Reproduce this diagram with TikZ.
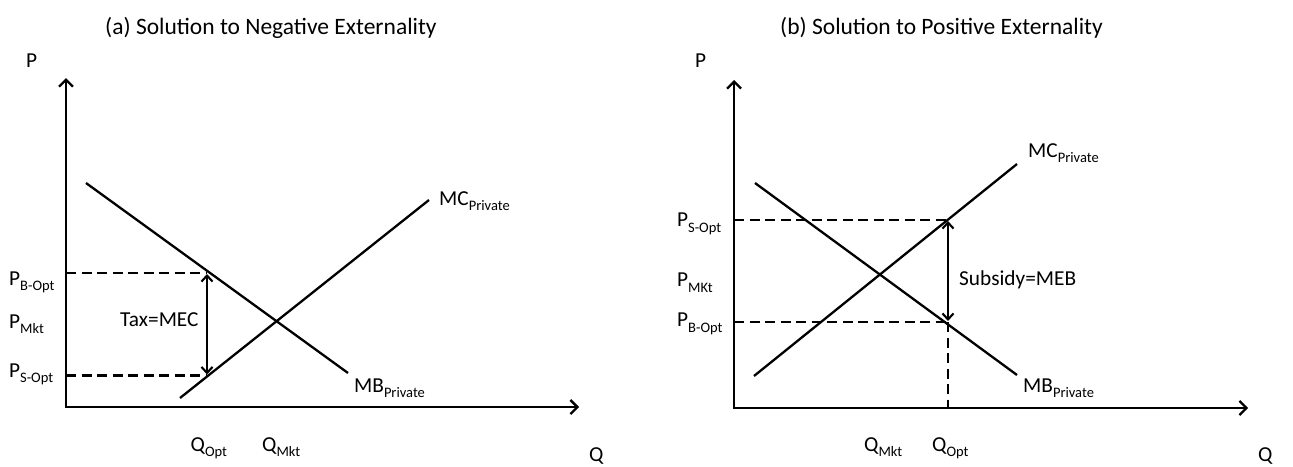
\documentclass[tikz,border=0pt]{standalone}
\usepackage{fontspec}
\setmainfont{Carlito}
\usetikzlibrary{arrows.meta}
\newcommand{\mysub}[1]{\raisebox{-0.27em}{\fontsize{14.5}{15}\selectfont #1}}
\begin{document}
\begin{tikzpicture}[x=1pt,y=-1pt,
  ln/.style={line width=2.3pt},
  dsh/.style={line width=2.3pt, dash pattern=on 10pt off 5.5pt},
  axes/.style={line width=2.3pt, {Straight Barb[length=7pt,width=14pt]}-{Straight Barb[length=7pt,width=14pt]}},
  dbl/.style={line width=2.1pt, {Straight Barb[length=6pt,width=11pt]}-{Straight Barb[length=6pt,width=11pt]}, shorten <=1pt, shorten >=1pt},
  lab/.style={font=\fontsize{21.3}{24}\selectfont, inner sep=0pt, anchor=base west},
  ttl/.style={font=\fontsize{23.5}{27}\selectfont, inner sep=0pt, anchor=base west}]
\useasboundingbox[fill=white] (0,0) rectangle (1293,466);

% ---------- panel (a) ----------
\node[ttl] (ta) at (105,34.5) {(a) Solution to Negative Externality};
\coordinate (Y1) at (66,78);
\coordinate (O1) at (66,407);
\coordinate (X1) at (579,407);
\draw[axes] (Y1) -- (O1) -- (X1);
\node[lab] (pa) at (26,67) {P};
\node[lab] (qa) at (589,461) {Q};

\coordinate (MBa1) at (86,183);
\coordinate (MBa2) at (348,373);
\coordinate (MCa1) at (180,398);
\coordinate (MCa2) at (429,200);
\draw[ln] (MBa1) -- (MBa2);
\draw[ln] (MCa1) -- (MCa2);

\coordinate (LB1) at (66,273);
\coordinate (B1) at (207,273);
\coordinate (LS1) at (66,375.5);
\coordinate (S1) at (207,375.5);
\draw[dsh] (LB1) -- (B1);
\draw[dsh] (LS1) -- (S1);
\draw[dbl] (B1) -- (S1);

\node[lab] (pba) at (9,285) {P\mysub{B-Opt}};
\node[lab] (pma) at (9,328) {P\mysub{Mkt}};
\node[lab] (psa) at (9,377) {P\mysub{S-Opt}};
\node[lab] (qoa) at (190.5,451) {Q\mysub{Opt}};
\node[lab] (qma) at (262,451) {Q\mysub{Mkt}};
\node[lab] (mca) at (439,205) {MC\mysub{Private}};
\node[lab] (mba) at (354,392) {MB\mysub{Private}};
\node[lab] (tax) at (120,326) {Tax=MEC};

% ---------- panel (b) ----------
\node[ttl] (tb) at (780,34.5) {(b) Solution to Positive Externality};
\coordinate (Y2) at (734,80);
\coordinate (O2) at (734,408);
\coordinate (X2) at (1248,408);
\draw[axes] (Y2) -- (O2) -- (X2);
\node[lab] (pb) at (695,67) {P};
\node[lab] (qb) at (1258,461) {Q};

\coordinate (MBb1) at (755,183);
\coordinate (MBb2) at (1017,375);
\coordinate (MCb1) at (754,376);
\coordinate (MCb2) at (1017,164);
\draw[ln] (MBb1) -- (MBb2);
\draw[ln] (MCb1) -- (MCb2);

\coordinate (LS2) at (734,220);
\coordinate (S2) at (948,220);
\coordinate (LB2) at (734,322);
\coordinate (B2) at (948,322);
\draw[dsh] (LS2) -- (S2);
\draw[dsh] (LB2) -- (B2);
\draw[dsh] (B2) -- (O2 -| B2);
\draw[dbl] (S2) -- (B2);

\node[lab] (psb) at (677,226.7) {P\mysub{S-Opt}};
\node[lab] (pmb) at (677,286.7) {P\mysub{MKt}};
\node[lab] (pbb) at (677,326.7) {P\mysub{B-Opt}};
\node[lab] (qmb) at (864,451) {Q\mysub{Mkt}};
\node[lab] (qob) at (932,451) {Q\mysub{Opt}};
\node[lab] (mcb) at (1028,157) {MC\mysub{Private}};
\node[lab] (mbb) at (1023,392) {MB\mysub{Private}};
\node[lab] (sub) at (959,285) {Subsidy=MEB};
\end{tikzpicture}
\end{document}
